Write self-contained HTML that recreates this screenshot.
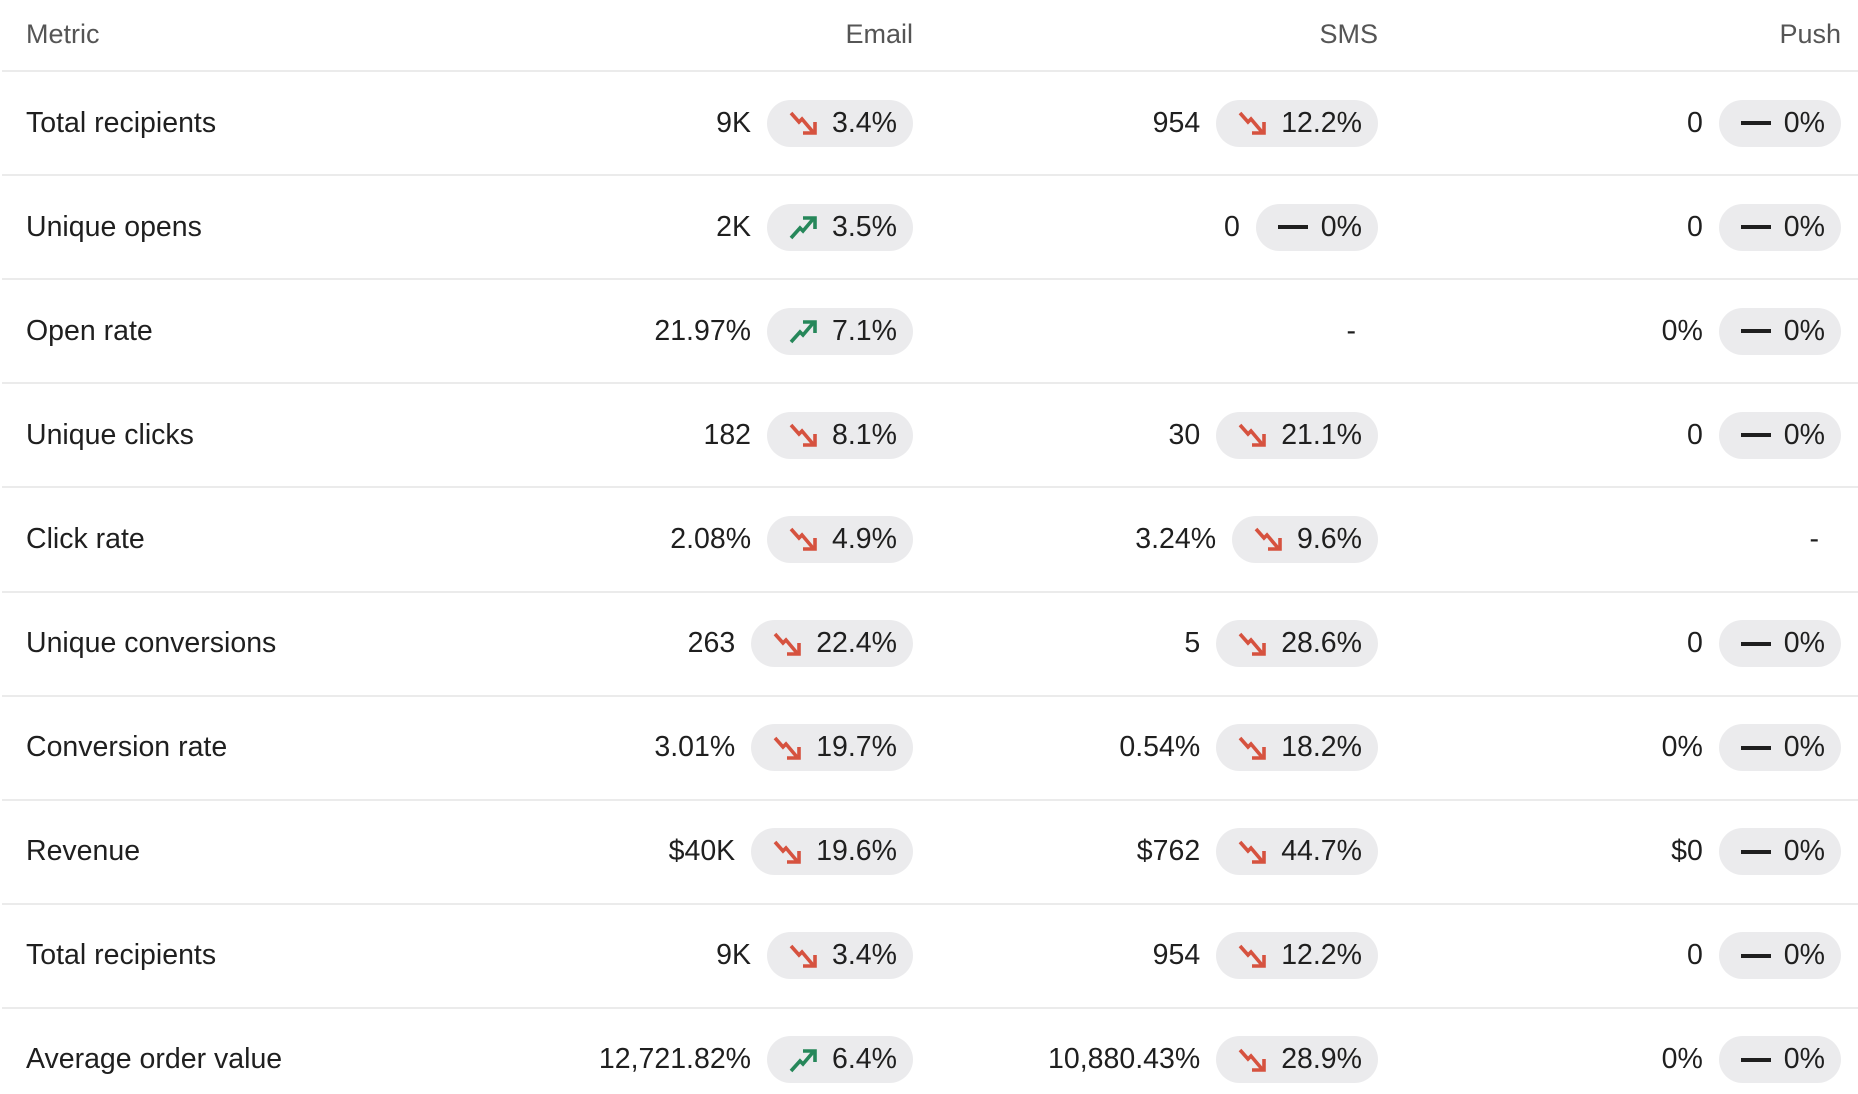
<!DOCTYPE html>
<html><head><meta charset="utf-8"><style>
body{margin:0;width:1858px;height:1094px;background:#fff;font-family:"Liberation Sans",sans-serif;color:#1f1f1f;overflow:hidden;position:relative}
.hdr{position:absolute;top:19px;font-size:27px;color:#555;}
.line{position:absolute;left:2px;right:0;height:2px;background:#ebebeb}
.lab{position:absolute;left:26px;font-size:28.5px;line-height:47px}
.cell{position:absolute;display:flex;align-items:center;justify-content:flex-end;height:47px;font-size:28.5px}
.pill{margin-left:16px;height:47px;border-radius:24px;background:#ebebed;display:flex;align-items:center;padding:0 16px 0 20px}
.pill svg{margin-right:11px}
</style></head><body>
<div class="hdr" style="left:26px">Metric</div>
<div class="hdr" style="right:945px">Email</div>
<div class="hdr" style="right:480px">SMS</div>
<div class="hdr" style="right:17px">Push</div>
<div id="t"></div>
<script>
const dn='<svg width="34" height="30" viewBox="0 0 34 30"><path d="M4 5 L12 14 L15 11 L26 24" fill="none" stroke="#d6523f" stroke-width="3.6"/><path d="M16 25 H28 V14" fill="none" stroke="#d6523f" stroke-width="3.6"/></svg>';
const up='<svg width="34" height="30" viewBox="0 0 34 30"><path d="M4 26 L13 16 L16 19 L27 6" fill="none" stroke="#26875a" stroke-width="3.6"/><path d="M16 6 H28 V17" fill="none" stroke="#26875a" stroke-width="3.6"/></svg>';
const fl='<svg width="34" height="30" viewBox="0 0 34 30"><path d="M2 15 H32" stroke="#1f1f1f" stroke-width="4"/></svg>';
const I={d:dn,u:up,f:fl};
const rows=[
["Total recipients",["9K","d","3.4%"],["954","d","12.2%"],["0","f","0%"]],
["Unique opens",["2K","u","3.5%"],["0","f","0%"],["0","f","0%"]],
["Open rate",["21.97%","u","7.1%"],null,["0%","f","0%"]],
["Unique clicks",["182","d","8.1%"],["30","d","21.1%"],["0","f","0%"]],
["Click rate",["2.08%","d","4.9%"],["3.24%","d","9.6%"],null],
["Unique conversions",["263","d","22.4%"],["5","d","28.6%"],["0","f","0%"]],
["Conversion rate",["3.01%","d","19.7%"],["0.54%","d","18.2%"],["0%","f","0%"]],
["Revenue",["$40K","d","19.6%"],["$762","d","44.7%"],["$0","f","0%"]],
["Total recipients",["9K","d","3.4%"],["954","d","12.2%"],["0","f","0%"]],
["Average order value",["12,721.82%","u","6.4%"],["10,880.43%","d","28.9%"],["0%","f","0%"]]];
const rights=[945,480,17];let h='';
rows.forEach((r,i)=>{const c=123+i*104.1, top=c-23.5;
h+=`<div class="line" style="top:${70+i*104.1}px"></div>`;
h+=`<div class="lab" style="top:${top}px">${r[0]}</div>`;
for(let k=0;k<3;k++){const v=r[k+1];
if(!v){h+=`<div class="cell" style="top:${top}px;right:${rights[k]+22}px">-</div>`;continue;}
h+=`<div class="cell" style="top:${top}px;right:${rights[k]}px">${v[0]}<div class="pill">${I[v[1]]}${v[2]}</div></div>`;}
});
document.getElementById('t').innerHTML=h;
</script>
</body></html>
